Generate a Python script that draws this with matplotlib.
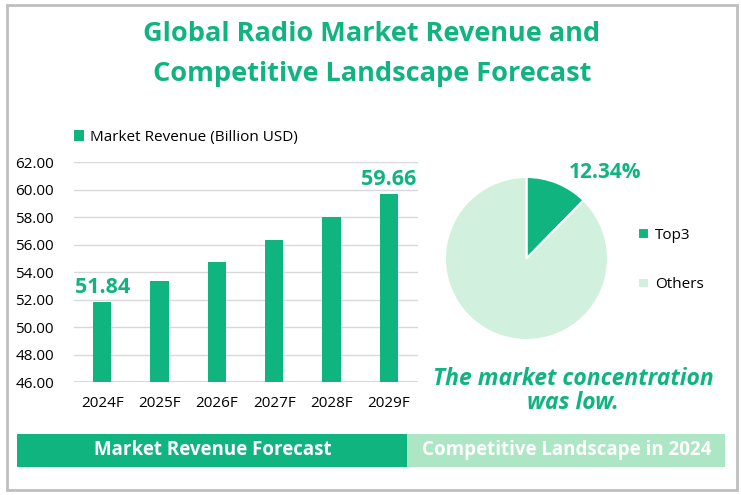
import matplotlib.pyplot as plt
from matplotlib.patches import Rectangle

plt.rcParams['font.family'] = ['Open Sans', 'DejaVu Sans']

years = ['2024F', '2025F', '2026F', '2027F', '2028F', '2029F']
revenue = [51.84, 53.40, 54.78, 56.38, 58.05, 59.66]
shares = [12.34, 87.66]
share_labels = ['Top3', 'Others']

GREEN = '#10B47F'
LIGHT = '#D1F0DE'
BANNER_LIGHT = '#ADE6C4'

W, H = 741, 495
fig = plt.figure(figsize=(W / 100, H / 100), dpi=100)


def box(x0, y0, x1, y1):
    # pixel box (top-left origin) -> figure fraction rect
    return [x0 / W, 1 - y1 / H, (x1 - x0) / W, (y1 - y0) / H]


# outer frame
fig.patches.append(Rectangle((7 / W, 1 - 490 / H), 730 / W, 485 / H, transform=fig.transFigure,
                             fill=False, edgecolor='#BFBFBF', linewidth=2))

# title
fig.text(372 / W, 1 - 34 / H, 'Global Radio Market Revenue and', ha='center', va='center',
         fontsize=19.5, fontweight='bold', color=GREEN)
fig.text(372 / W, 1 - 74 / H, 'Competitive Landscape Forecast', ha='center', va='center',
         fontsize=19.5, fontweight='bold', color=GREEN)

# bar chart
ax = fig.add_axes(box(73.5, 162.3, 417.5, 382.3))
x = range(len(years))
ax.bar(x, revenue, width=0.32, color=GREEN, label='Market Revenue (Billion USD)', zorder=3)
ax.set_ylim(46, 62)
ax.set_xlim(-0.5, len(years) - 0.5)
ax.set_yticks(range(46, 63, 2))
ax.set_yticklabels([f'{v:.2f}' for v in range(46, 63, 2)])
ax.set_xticks(list(x))
ax.set_xticklabels(years)
ax.tick_params(axis='both', length=0, labelsize=11, colors='#000000')
ax.tick_params(axis='x', pad=10)
ax.tick_params(axis='y', pad=14)
ax.grid(axis='y', color='#D9D9D9', linewidth=1, zorder=0)
for s in ax.spines.values():
    s.set_visible(False)
ax.axhline(46, color='#D9D9D9', linewidth=1.5, zorder=2)
for i in (0, len(revenue) - 1):
    ax.annotate(f'{revenue[i]:.2f}', (i, revenue[i]), xytext=(0, 3), textcoords='offset points',
                ha='center', va='bottom', fontsize=15.5, fontweight='bold', color=GREEN)
ax.legend(loc='lower left', bbox_to_anchor=(0.0, 1.08), frameon=False, fontsize=11,
          handlelength=0.7, handleheight=0.7, handletextpad=0.4, borderaxespad=0, borderpad=0)

# pie chart
pax = fig.add_axes(box(445, 177, 608, 340))
wedges, _ = pax.pie(shares, colors=[GREEN, LIGHT], startangle=90, counterclock=False,
                    wedgeprops=dict(edgecolor='white', linewidth=1.5))
pax.set_xlim(-1, 1)
pax.set_ylim(-1, 1)
pax.set_aspect('equal')
pax.text(0.96, 1.05, f'{shares[0]:.2f}%', ha='center', va='center', fontsize=15,
         fontweight='bold', color=GREEN)
pax.legend(wedges, share_labels, loc='center left', bbox_to_anchor=(1.10, 0.49), frameon=False,
           fontsize=11, handlelength=0.7, handleheight=0.7, handletextpad=0.4, labelspacing=2.25)

fig.text(573 / W, 1 - 379 / H, 'The market concentration', ha='center', va='center',
         fontsize=16.5, fontweight='bold', fontstyle='italic', color=GREEN)
fig.text(573 / W, 1 - 403 / H, 'was low.', ha='center', va='center',
         fontsize=16.5, fontweight='bold', fontstyle='italic', color=GREEN)

# bottom banners
fig.patches.append(Rectangle((17 / W, 1 - 467 / H), 390 / W, 33 / H, transform=fig.transFigure,
                             facecolor=GREEN, edgecolor='none'))
fig.patches.append(Rectangle((407 / W, 1 - 467 / H), 318 / W, 33 / H, transform=fig.transFigure,
                             facecolor=BANNER_LIGHT, edgecolor='none'))
fig.text(213 / W, 1 - 450 / H, 'Market Revenue Forecast', ha='center', va='center',
         fontsize=13.5, fontweight='bold', color='white')
fig.text(567 / W, 1 - 450 / H, 'Competitive Landscape in 2024', ha='center', va='center',
         fontsize=13.5, fontweight='bold', color='white')

fig.savefig('out.png', dpi=100)
